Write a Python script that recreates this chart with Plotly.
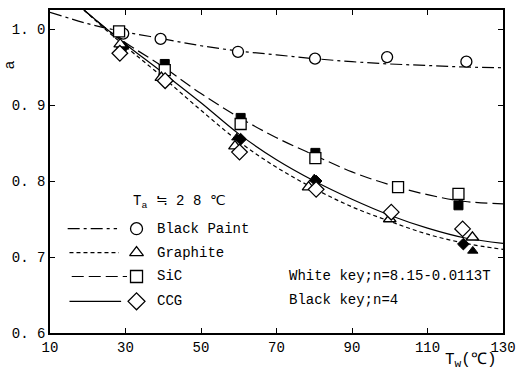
import plotly.graph_objects as go

# ---------------- data ----------------
curve_T = [19, 25, 30, 40, 50, 60, 70, 80, 90, 100, 110, 120, 130]
curve_sic = [1.025, 1.000, 0.982, 0.950, 0.915, 0.884, 0.857, 0.834, 0.812, 0.795, 0.782, 0.773, 0.770]
curve_ccg = [1.025, 1.000, 0.980, 0.942, 0.903, 0.862, 0.828, 0.800, 0.776, 0.755, 0.738, 0.725, 0.718]
curve_graphite = [1.025, 0.998, 0.977, 0.936, 0.893, 0.852, 0.818, 0.790, 0.766, 0.747, 0.730, 0.718, 0.710]
curve_bp_T = [10, 20, 25, 30, 40, 50, 60, 70, 80, 90, 100, 110, 120, 130]
curve_bp = [1.022, 1.007, 1.001, 0.996, 0.987, 0.978, 0.971, 0.966, 0.961, 0.957, 0.954, 0.952, 0.950, 0.949]

# white keys (n = 8.15 - 0.0113T)
bp_w_T = [29.4, 39.3, 59.8, 80.2, 99.3, 120.3]
bp_w_a = [0.994, 0.987, 0.970, 0.961, 0.963, 0.957]
sic_w_T = [28.3, 40.4, 60.5, 80.3, 102.2, 118.2]
sic_w_a = [0.997, 0.946, 0.875, 0.830, 0.792, 0.783]
gr_w_T = [28.6, 39.5, 59.0, 78.5, 100.0, 121.9]
gr_w_a = [0.980, 0.936, 0.846, 0.792, 0.750, 0.726]
ccg_w_T = [28.5, 40.5, 60.2, 80.5, 100.4, 119.3]
ccg_w_a = [0.968, 0.932, 0.838, 0.789, 0.759, 0.737]

# black keys (n = 4)
sic_b_T = [40.4, 60.5, 80.3, 118.2]
sic_b_a = [0.954, 0.883, 0.837, 0.768]
gr_b_T = [29.0, 59.5, 80.0, 122.0]
gr_b_a = [0.978, 0.857, 0.803, 0.708]
ccg_b_T = [29.5, 60.5, 80.5, 119.5]
ccg_b_a = [0.976, 0.855, 0.800, 0.717]

legend_labels = ["Black Paint", "Graphite", "SiC", "CCG"]
x_ticks = [10, 30, 50, 70, 90, 110, 130]
y_ticks = [0.6, 0.7, 0.8, 0.9, 1.0]
y_ticktext = ["0. 6", "0. 7", "0. 8", "0. 9", "1. 0"]

# ---------------- styles ----------------
FONT = "Liberation Mono"
dash_bp = "12px,4px,3px,4px"
dash_gr = "4px,3px"
dash_sic = "12px,5px"
dash_ccg = "solid"
symbols_fill = ["circle", "triangle-up", "square", "diamond"]
dashes = [dash_bp, dash_gr, dash_sic, dash_ccg]

fig = go.Figure()

def line(x, y, dash, xa="x", ya="y"):
    fig.add_trace(go.Scatter(x=x, y=y, mode="lines", line=dict(color="black", width=1.2, dash=dash, shape="spline"),
                             xaxis=xa, yaxis=ya, showlegend=False, hoverinfo="skip"))

line(curve_bp_T, curve_bp, dash_bp)
line(curve_T, curve_graphite, dash_gr)
line(curve_T, curve_sic, dash_sic)
line(curve_T, curve_ccg, dash_ccg)

def marks(x, y, sym, size, filled):
    if filled:
        m = dict(symbol=sym, size=size, color="black", line=dict(color="black", width=1))
    else:
        m = dict(symbol=sym, size=size, color="white", line=dict(color="black", width=1.3))
    fig.add_trace(go.Scatter(x=x, y=y, mode="markers", marker=m, showlegend=False, hoverinfo="skip"))

marks(sic_b_T, sic_b_a, "square", 9, True)
marks(gr_b_T, gr_b_a, "triangle-up", 9, True)
marks(ccg_b_T, ccg_b_a, "diamond", 9, True)

marks(bp_w_T, bp_w_a, "circle", 11, False)
marks(sic_w_T, sic_w_a, "square", 11, False)
marks(gr_w_T, gr_w_a, "triangle-up", 11, False)
marks(ccg_w_T, ccg_w_a, "diamond", 12, False)

# ---------------- custom legend on an overlay axis in [0,1] ----------------
leg_rows = [0.323, 0.249, 0.175, 0.098]
leg_x0 = [0.039, 0.043, 0.048, 0.043]
leg_x1 = [0.148, 0.152, 0.170, 0.157]
for i, lab in enumerate(legend_labels):
    y = leg_rows[i]
    line([leg_x0[i], leg_x1[i]], [y, y], dashes[i], xa="x2", ya="y2")
    fig.add_trace(go.Scatter(x=[0.191], y=[y], mode="markers", xaxis="x2", yaxis="y2",
                             marker=dict(symbol=symbols_fill[i], size=12 if i != 3 else 13, color="white",
                                         line=dict(color="black", width=1.3)),
                             showlegend=False, hoverinfo="skip"))
    fig.add_annotation(x=0.232, y=y, xref="paper", yref="paper", text=lab, showarrow=False, xanchor="left",
                       yanchor="middle", font=dict(family=FONT, size=14, color="black"))

fig.add_annotation(x=0.178, y=0.405, xref="paper", yref="paper", text="T<sub>a</sub> ≒ 2 8 ℃", showarrow=False,
                   xanchor="left", yanchor="middle", font=dict(family=FONT, size=14, color="black"))
fig.add_annotation(x=0.523, y=0.178, xref="paper", yref="paper", text="White key;n=8.15-0.0113T", showarrow=False,
                   xanchor="left", yanchor="middle", font=dict(family=FONT, size=14, color="black"))
fig.add_annotation(x=0.523, y=0.102, xref="paper", yref="paper", text="Black key;n=4", showarrow=False,
                   xanchor="left", yanchor="middle", font=dict(family=FONT, size=14, color="black"))

# axis titles as annotations (paper coords == plot area since domains are [0,1])
fig.add_annotation(x=-0.087, y=0.83, xref="paper", yref="paper", text="a", showarrow=False, textangle=-90,
                   xanchor="center", yanchor="middle", font=dict(family=FONT, size=15, color="black"))
fig.add_annotation(x=0.93, y=-0.085, xref="paper", yref="paper", text="T<sub>w</sub>(℃)", showarrow=False,
                   xanchor="center", yanchor="middle", font=dict(family=FONT, size=16, color="black"))

ax_common = dict(showline=True, linecolor="black", linewidth=1.5, mirror="ticks", ticks="inside",
                 ticklen=5, tickwidth=1.2, tickcolor="black", showgrid=False, zeroline=False,
                 tickfont=dict(family=FONT, size=14, color="black"))

fig.update_layout(
    width=524, height=374,
    margin=dict(l=50, r=15, t=8, b=41),
    paper_bgcolor="white", plot_bgcolor="white",
    xaxis=dict(range=[10, 130], tickvals=x_ticks, ticktext=[str(v) for v in x_ticks], **ax_common),
    yaxis=dict(range=[0.6, 1.025], tickvals=y_ticks, ticktext=y_ticktext, **ax_common),
    xaxis2=dict(range=[0, 1], overlaying="x", visible=False, fixedrange=True),
    yaxis2=dict(range=[0, 1], overlaying="y", visible=False, fixedrange=True),
    showlegend=False,
)

fig.write_html("out.html")
